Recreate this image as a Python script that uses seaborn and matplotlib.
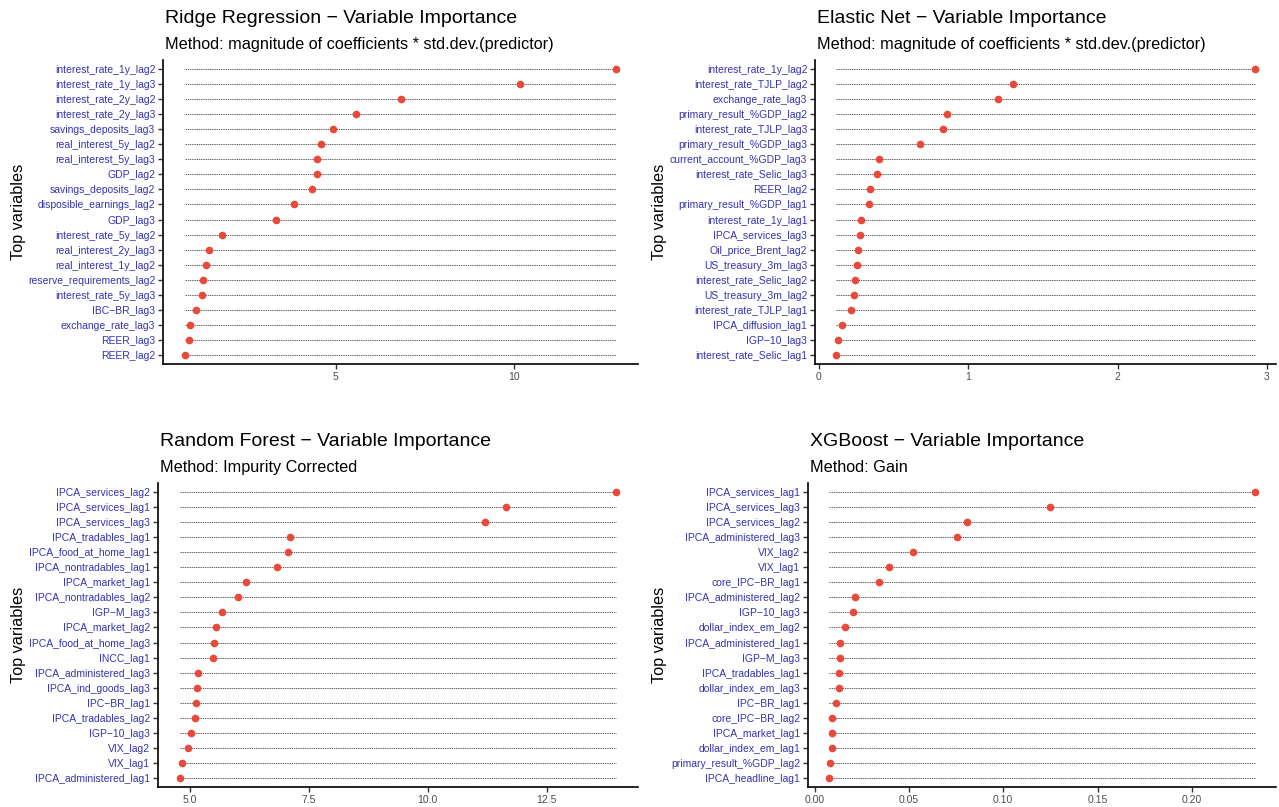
import numpy as np
import matplotlib
matplotlib.use("Agg")
import matplotlib.pyplot as plt
import seaborn as sns

# datos --------------------------------------------------------------------
ridge_vars = ["interest_rate_1y_lag2", "interest_rate_1y_lag3", "interest_rate_2y_lag2",
              "interest_rate_2y_lag3", "savings_deposits_lag3", "real_interest_5y_lag2",
              "real_interest_5y_lag3", "GDP_lag2", "savings_deposits_lag2",
              "disposible_earnings_lag2", "GDP_lag3", "interest_rate_5y_lag2",
              "real_interest_2y_lag3", "real_interest_1y_lag2", "reserve_requirements_lag2",
              "interest_rate_5y_lag3", "IBC−BR_lag3", "exchange_rate_lag3", "REER_lag3", "REER_lag2"]
ridge_imp = [12.86, 10.15, 6.82, 5.57, 4.92, 4.59, 4.49, 4.48, 4.34, 3.83,
             3.32, 1.81, 1.44, 1.38, 1.29, 1.26, 1.09, 0.93, 0.90, 0.77]

enet_vars = ["interest_rate_1y_lag2", "interest_rate_TJLP_lag2", "exchange_rate_lag3",
             "primary_result_%GDP_lag2", "interest_rate_TJLP_lag3", "primary_result_%GDP_lag3",
             "current_account_%GDP_lag3", "interest_rate_Selic_lag3", "REER_lag2",
             "primary_result_%GDP_lag1", "interest_rate_1y_lag1", "IPCA_services_lag3",
             "Oil_price_Brent_lag2", "US_treasury_3m_lag3", "interest_rate_Selic_lag2",
             "US_treasury_3m_lag2", "interest_rate_TJLP_lag1", "IPCA_diffusion_lag1",
             "IGP−10_lag3", "interest_rate_Selic_lag1"]
enet_imp = [2.92, 1.30, 1.20, 0.86, 0.83, 0.68, 0.40, 0.39, 0.345, 0.336,
            0.28, 0.278, 0.26, 0.257, 0.24, 0.235, 0.213, 0.158, 0.126, 0.115]

rf_vars = ["IPCA_services_lag2", "IPCA_services_lag1", "IPCA_services_lag3",
           "IPCA_tradables_lag1", "IPCA_food_at_home_lag1", "IPCA_nontradables_lag1",
           "IPCA_market_lag1", "IPCA_nontradables_lag2", "IGP−M_lag3", "IPCA_market_lag2",
           "IPCA_food_at_home_lag3", "INCC_lag1", "IPCA_administered_lag3",
           "IPCA_ind_goods_lag3", "IPC−BR_lag1", "IPCA_tradables_lag2", "IGP−10_lag3",
           "VIX_lag2", "VIX_lag1", "IPCA_administered_lag1"]
rf_imp = [13.96, 11.65, 11.20, 7.10, 7.06, 6.83, 6.19, 6.01, 5.68, 5.55,
          5.50, 5.48, 5.18, 5.15, 5.14, 5.10, 5.03, 4.97, 4.83, 4.79]

xgb_vars = ["IPCA_services_lag1", "IPCA_services_lag3", "IPCA_services_lag2",
            "IPCA_administered_lag3", "VIX_lag2", "VIX_lag1", "core_IPC−BR_lag1",
            "IPCA_administered_lag2", "IGP−10_lag3", "dollar_index_em_lag2",
            "IPCA_administered_lag1", "IGP−M_lag3", "IPCA_tradables_lag1",
            "dollar_index_em_lag3", "IPC−BR_lag1", "core_IPC−BR_lag2", "IPCA_market_lag1",
            "dollar_index_em_lag1", "primary_result_%GDP_lag2", "IPCA_headline_lag1"]
xgb_imp = [0.2333, 0.1248, 0.0806, 0.0754, 0.0521, 0.0393, 0.0339, 0.0212, 0.0205, 0.0164,
           0.0136, 0.0135, 0.0130, 0.0127, 0.0112, 0.0095, 0.0091, 0.0090, 0.0084, 0.0078]

sns.set_theme(style="white")
plt.rcParams["font.family"] = ["Liberation Sans", "DejaVu Sans"]

W, H = 1279, 807
fig = plt.figure(figsize=(W / 100, H / 100), dpi=100)


def px_axes(left, right, top, bottom):
    # convierte pixeles (desde arriba-izquierda) a fracciones de la figura
    return fig.add_axes([left / W, 1 - bottom / H, (right - left) / W, (bottom - top) / H])


def lollipop(ax, names, values, title, subtitle, ticks, fmt):
    values = np.array(values)
    n = len(names)
    lo, hi = values.min(), values.max()
    # lineas punteadas de min a max
    ax.hlines(np.arange(n), lo, hi, colors="#222222", linestyles=(0, (2.0, 1.2)), linewidth=0.5, zorder=1)
    sns.stripplot(x=values, y=names, order=names, jitter=False, color="#E8493A",
                  size=5.5, linewidth=0, ax=ax, zorder=3, orient="h")
    span = hi - lo
    ax.set_xlim(lo - 0.05 * span, hi + 0.05 * span)
    ax.set_ylim(n - 1 + 0.6, -0.6)
    ax.set_xticks(ticks)
    ax.set_xticklabels([fmt.format(t) for t in ticks])
    ax.tick_params(axis="y", labelsize=7.5, labelcolor="#3333B2", length=3.5, width=1.0,
                   color="#333333", pad=2, left=True)
    ax.tick_params(axis="x", labelsize=7.5, labelcolor="#4D4D4D", length=3.5, width=1.0,
                   color="#333333", pad=2, bottom=True)
    for s in ["top", "right"]:
        ax.spines[s].set_visible(False)
    for s in ["left", "bottom"]:
        ax.spines[s].set_color("black")
        ax.spines[s].set_linewidth(1.2)
    ax.set_xlabel("")
    ax.set_ylabel("")
    ax.grid(False)
    ax.annotate(title, xy=(0, 1), xycoords="axes fraction", xytext=(1.5, 30.0),
                textcoords="offset points", ha="left", va="center", fontsize=14, color="black")
    ax.annotate(subtitle, xy=(0, 1), xycoords="axes fraction", xytext=(1.5, 11.5),
                textcoords="offset points", ha="left", va="center", fontsize=11.7, color="black")


ax1 = px_axes(163, 638, 60, 364)
ax2 = px_axes(815, 1276, 60, 364)
ax3 = px_axes(158, 638, 483, 787)
ax4 = px_axes(808, 1276, 483, 787)

sub_coef = "Method: magnitude of coefficients * std.dev.(predictor)"
lollipop(ax1, ridge_vars, ridge_imp, "Ridge Regression − Variable Importance", sub_coef, [5, 10], "{:g}")
lollipop(ax2, enet_vars, enet_imp, "Elastic Net − Variable Importance", sub_coef, [0, 1, 2, 3], "{:g}")
lollipop(ax3, rf_vars, rf_imp, "Random Forest − Variable Importance", "Method: Impurity Corrected",
         [5.0, 7.5, 10.0, 12.5], "{:.1f}")
lollipop(ax4, xgb_vars, xgb_imp, "XGBoost − Variable Importance", "Method: Gain",
         [0.0, 0.05, 0.10, 0.15, 0.20], "{:.2f}")

# etiquetas del eje y
for xpx, ypx in [(19, 212), (659, 212), (19, 635), (659, 635)]:
    fig.text(xpx / W, 1 - ypx / H, "Top variables", rotation=90, ha="center", va="center",
             fontsize=11.7, color="black")

fig.savefig("out.png", dpi=100, facecolor="white")
